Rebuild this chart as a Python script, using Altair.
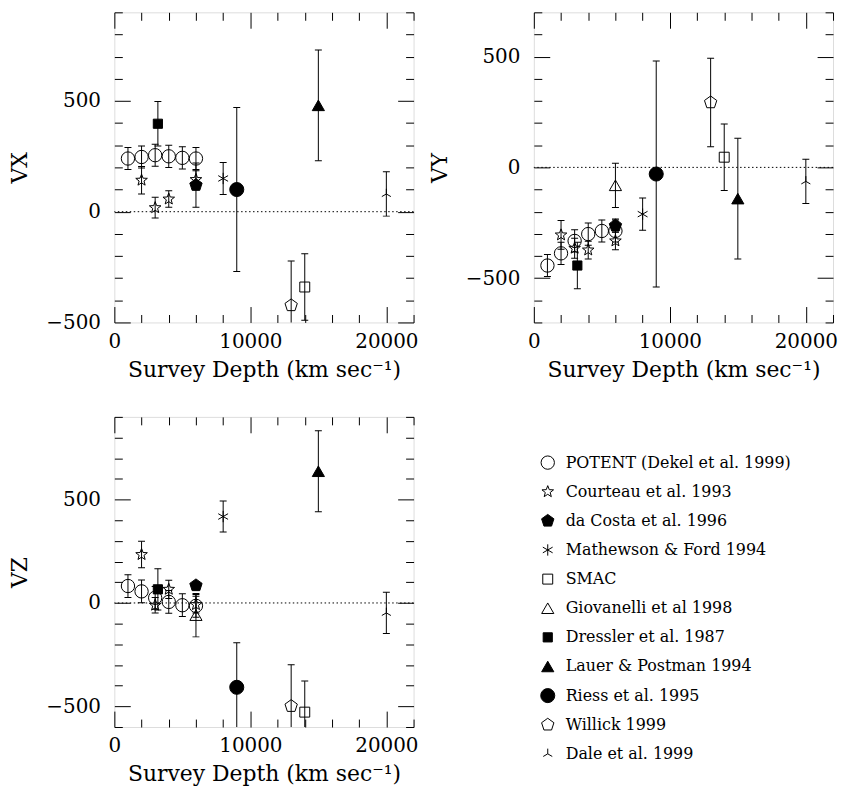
import math
import altair as alt
import pandas as pd

# ---------------- data ----------------
SURVEYS = [
    "POTENT (Dekel et al. 1999)",
    "Courteau et al. 1993",
    "da Costa et al. 1996",
    "Mathewson & Ford 1994",
    "SMAC",
    "Giovanelli et al 1998",
    "Dressler et al. 1987",
    "Lauer & Postman 1994",
    "Riess et al. 1995",
    "Willick 1999",
    "Dale et al. 1999",
]

potent_depth = [1000, 2000, 3000, 4000, 5000, 6000]
potent_vx = [240, 247, 255, 250, 243, 240]
potent_vx_err = [50, 50, 50, 50, 50, 50]
potent_vy = [-443, -388, -332, -301, -287, -287]
potent_vy_err = [50, 50, 50, 50, 50, 50]
potent_vz = [82, 56, 25, 5, -11, -14]
potent_vz_err = [55, 55, 55, 55, 55, 55]

courteau_depth = [2000, 3000, 4000, 6000]
courteau_vx = [142, 18, 57, 145]
courteau_vx_err = [62, 47, 37, 40]
courteau_vy = [-305, -365, -373, -332]
courteau_vy_err = [65, 45, 40, 40]
courteau_vz = [234, -11, 66, -8]
courteau_vz_err = [64, 37, 44, 40]

dacosta_depth = [6000]
dacosta_vx = [120]
dacosta_vx_err = [100]
dacosta_vy = [-263]
dacosta_vy_err = [30]
dacosta_vz = [85]
dacosta_vz_err = [15]

mathewson_depth = [8000]
mathewson_vx = [150]
mathewson_vx_err = [72]
mathewson_vy = [-211]
mathewson_vy_err = [73]
mathewson_vz = [418]
mathewson_vz_err = [75]

smac_depth = [14000]
smac_vx = [-340]
smac_vx_err = [150]
smac_vy = [46]
smac_vy_err = [150]
smac_vz = [-528]
smac_vz_err = [150]

giovanelli_depth = [6000]
giovanelli_vy = [-81]
giovanelli_vy_err = [100]
giovanelli_vz = [-59]
giovanelli_vz_err = [105]

dressler_depth = [3200]
dressler_vx = [397]
dressler_vx_err = [100]
dressler_vy = [-443]
dressler_vy_err = [105]
dressler_vz = [66]
dressler_vz_err = [100]

lauer_depth = [15000]
lauer_vx = [480]
lauer_vx_err = [250]
lauer_vy = [-141]
lauer_vy_err = [272]
lauer_vz = [637]
lauer_vz_err = [196]

riess_depth = [9000]
riess_vx = [100]
riess_vx_err = [370]
riess_vy = [-30]
riess_vy_err = [510]
riess_vz = [-408]
riess_vz_err = [215]

willick_depth = [13000]
willick_vx = [-423]
willick_vx_err = [200]
willick_vy = [293]
willick_vy_err = [200]
willick_vz = [-499]
willick_vz_err = [200]

dale_depth = [20000]
dale_vx = [80]
dale_vx_err = [100]
dale_vy = [-63]
dale_vy_err = [100]
dale_vz = [-48]
dale_vz_err = [100]

# ---------------- build long table ----------------
series = [
    (SURVEYS[0], potent_depth, {"VX": (potent_vx, potent_vx_err), "VY": (potent_vy, potent_vy_err), "VZ": (potent_vz, potent_vz_err)}),
    (SURVEYS[1], courteau_depth, {"VX": (courteau_vx, courteau_vx_err), "VY": (courteau_vy, courteau_vy_err), "VZ": (courteau_vz, courteau_vz_err)}),
    (SURVEYS[2], dacosta_depth, {"VX": (dacosta_vx, dacosta_vx_err), "VY": (dacosta_vy, dacosta_vy_err), "VZ": (dacosta_vz, dacosta_vz_err)}),
    (SURVEYS[3], mathewson_depth, {"VX": (mathewson_vx, mathewson_vx_err), "VY": (mathewson_vy, mathewson_vy_err), "VZ": (mathewson_vz, mathewson_vz_err)}),
    (SURVEYS[4], smac_depth, {"VX": (smac_vx, smac_vx_err), "VY": (smac_vy, smac_vy_err), "VZ": (smac_vz, smac_vz_err)}),
    (SURVEYS[5], giovanelli_depth, {"VY": (giovanelli_vy, giovanelli_vy_err), "VZ": (giovanelli_vz, giovanelli_vz_err)}),
    (SURVEYS[6], dressler_depth, {"VX": (dressler_vx, dressler_vx_err), "VY": (dressler_vy, dressler_vy_err), "VZ": (dressler_vz, dressler_vz_err)}),
    (SURVEYS[7], lauer_depth, {"VX": (lauer_vx, lauer_vx_err), "VY": (lauer_vy, lauer_vy_err), "VZ": (lauer_vz, lauer_vz_err)}),
    (SURVEYS[8], riess_depth, {"VX": (riess_vx, riess_vx_err), "VY": (riess_vy, riess_vy_err), "VZ": (riess_vz, riess_vz_err)}),
    (SURVEYS[9], willick_depth, {"VX": (willick_vx, willick_vx_err), "VY": (willick_vy, willick_vy_err), "VZ": (willick_vz, willick_vz_err)}),
    (SURVEYS[10], dale_depth, {"VX": (dale_vx, dale_vx_err), "VY": (dale_vy, dale_vy_err), "VZ": (dale_vz, dale_vz_err)}),
]

rows = []
for name, depth, comps in series:
    for comp, (vals, errs) in comps.items():
        for d, v, e in zip(depth, vals, errs):
            rows.append({"survey": name, "comp": comp, "depth": d, "v": v, "lo": v - e, "hi": v + e})
df = pd.DataFrame(rows)

# ---------------- marker styles ----------------
def poly_path(n, r_in=None):
    pts = []
    k = 2 * n if r_in else n
    for i in range(k):
        r = 1.0 if (r_in is None or i % 2 == 0) else r_in
        a = -math.pi / 2 + i * 2 * math.pi / k
        pts.append((r * math.cos(a), r * math.sin(a)))
    return "M" + " L".join(f"{x:.3f},{y:.3f}" for x, y in pts) + " Z"

STAR = poly_path(5, 0.42)
PENT = poly_path(5)
ASTER = "M0,-1 L0,1 M-0.866,-0.5 L0.866,0.5 M-0.866,0.5 L0.866,-0.5"
DALE = "M0,0 L0,-1 M0,0 L-0.866,0.5 M0,0 L0.866,0.5"

SHAPES = ["circle", STAR, PENT, ASTER, "square", "triangle-up", "square",
          "triangle-up", "circle", PENT, DALE]
FILLS = ["transparent", "transparent", "black", "black", "transparent", "transparent",
         "black", "black", "black", "transparent", "black"]
SIZES = [180, 150, 170, 130, 100, 150, 85, 150, 200, 170, 110]

shape_enc = alt.Shape("survey:N", scale=alt.Scale(domain=SURVEYS, range=SHAPES), legend=None)
fill_enc = alt.Fill("survey:N", scale=alt.Scale(domain=SURVEYS, range=FILLS), legend=None)
size_enc = alt.Size("survey:N", scale=alt.Scale(type="ordinal", domain=SURVEYS, range=SIZES), legend=None)

FONT = "DejaVu Serif"
W, H = 301, 312
XTITLE = "Survey Depth (km sec\u207b\u00b9)"


def panel(comp, ydomain):
    d = df[df.comp == comp]
    xmajor = "datum.value % 10000 === 0"
    ymajor = "datum.value % 500 === 0"
    xaxis = alt.Axis(
        values=list(range(0, 22001, 2000)), format="d",
        labelExpr=f"{xmajor} ? datum.label : ''",
        labelFontSize={"condition": {"test": xmajor, "value": 20}, "value": 0},
        grid=True, gridColor="black", gridOpacity=1, gridWidth=1,
        gridDash={"condition": {"test": xmajor, "value": [16, H - 32]},
                  "value": [8, H - 16]},
        ticks=False, tickSize=0, domain=False, labelPadding=9, labelFlush=False,
        labelOverlap=False, labelFont=FONT, labelColor="black",
        titleFont=FONT, titleFontSize=22, titleFontWeight="normal", titleColor="black",
        titlePadding=8,
    )
    yvals = list(range(ydomain[0], ydomain[1] + 1, 100))
    yaxis = alt.Axis(
        values=yvals, format="d",
        labelExpr=f"{ymajor} ? datum.label : ''",
        labelFontSize={"condition": {"test": ymajor, "value": 20}, "value": 0},
        grid=True, gridColor="black", gridOpacity=1, gridWidth=1,
        gridDash={"condition": {"test": ymajor, "value": [16, W - 32]},
                  "value": [8, W - 16]},
        ticks=False, tickSize=0, domain=False, labelPadding=14, labelFlush=False,
        labelOverlap=False, labelFont=FONT, labelColor="black",
        titleFont=FONT, titleFontSize=22, titleFontWeight="normal", titleColor="black",
        titlePadding=14,
    )
    xs = alt.Scale(domain=[0, 22000], nice=False, zero=False)
    ys = alt.Scale(domain=list(ydomain), nice=False, zero=False)

    def X():
        return alt.X("depth:Q", scale=xs, axis=xaxis, title=XTITLE)

    def Y(f):
        return alt.Y(f, scale=ys, axis=yaxis, title=comp)

    base = alt.Chart(d)
    zero = alt.Chart(pd.DataFrame({"v": [0]})).mark_rule(
        color="black", strokeWidth=1, strokeDash=[1.5, 2.5]).encode(y=Y("v:Q"))
    bars = base.mark_rule(color="black", strokeWidth=1, clip=True).encode(
        x=X(), y=Y("lo:Q"), y2="hi:Q")
    cap_lo = base.mark_tick(orient="horizontal", size=7, thickness=1, color="black",
                            clip=True, opacity=1).encode(x=X(), y=Y("lo:Q"))
    cap_hi = base.mark_tick(orient="horizontal", size=7, thickness=1, color="black",
                            clip=True, opacity=1).encode(x=X(), y=Y("hi:Q"))
    pts = base.mark_point(stroke="black", strokeWidth=1, opacity=1, clip=True).encode(
        x=X(), y=Y("v:Q"), shape=shape_enc, fill=fill_enc, size=size_enc)
    return alt.layer(zero, bars, cap_lo, cap_hi, pts).properties(width=W, height=H)


vx = panel("VX", (-500, 900))
vy = panel("VY", (-700, 700))
vz = panel("VZ", (-600, 900))

leg_df = pd.DataFrame({"survey": SURVEYS, "row": list(range(len(SURVEYS)))})
leg_y = alt.Y("row:Q", scale=alt.Scale(domain=[0, 10], range=[46, 339]), axis=None)
leg_sym = alt.Chart(leg_df).mark_point(stroke="black", strokeWidth=1, opacity=1).encode(
    x=alt.value(14), y=leg_y, shape=shape_enc, fill=fill_enc, size=size_enc)
leg_txt = alt.Chart(leg_df).mark_text(
    align="left", baseline="middle", font=FONT, fontSize=16, color="black").encode(
    x=alt.value(32), y=leg_y, text="survey:N")
legend = alt.layer(leg_sym, leg_txt).properties(
    width=280, height=H, view=alt.ViewBackground(stroke="transparent"))

chart = alt.concat(
    vx, vy, vz, legend, columns=2, spacing={"row": 95, "column": 121}, bounds="flush"
).resolve_scale(
    x="independent", y="independent"
).properties(
    padding={"left": 0, "top": 1, "right": 0, "bottom": 0}
).configure_view(
    stroke="black", strokeWidth=1.5
).configure(background="white")

chart.save("out.html", embed_options={"renderer": "svg", "actions": False})
